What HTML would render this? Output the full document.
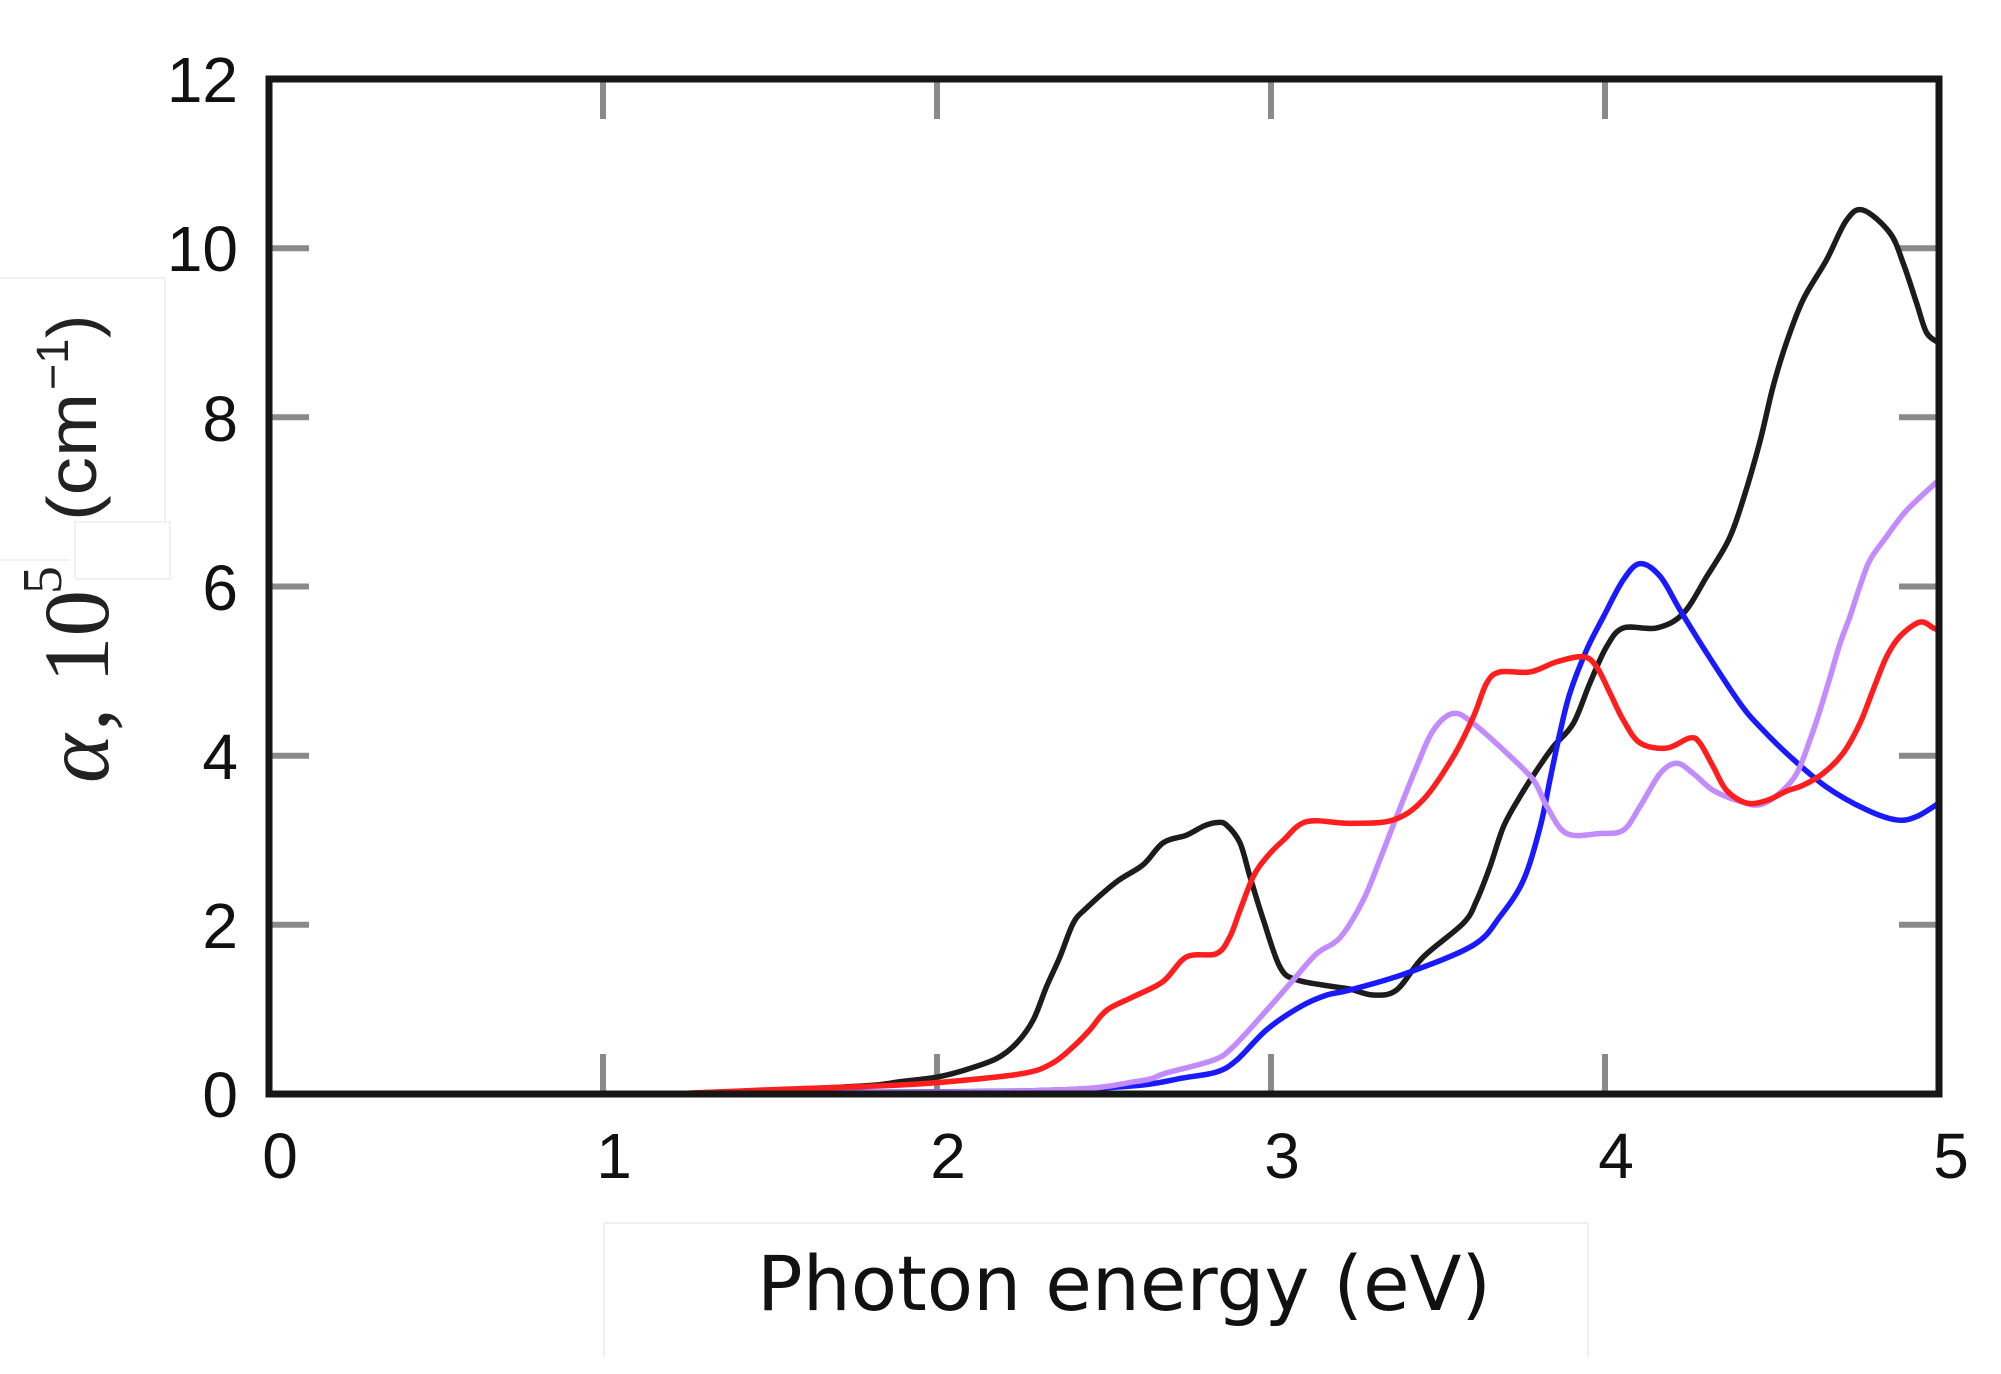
<!DOCTYPE html>
<html>
<head>
<meta charset="utf-8">
<style>
html,body{margin:0;padding:0;background:#fff;}
body{width:2001px;height:1374px;overflow:hidden;}
svg{display:block;}
</style>
</head>
<body>
<svg id="chart" width="2001" height="1374" viewBox="0 0 2001 1374" xmlns="http://www.w3.org/2000/svg">
<rect x="0" y="0" width="2001" height="1374" fill="#fff"/>

<!-- faint boxes -->
<g fill="none" stroke="#ececec" stroke-width="1.5">
  <polyline points="0,278 165,278 165,522"/>
  <polyline points="75,579 75,522 170,522 170,579 75,579"/>
  <line x1="0" y1="560" x2="70" y2="560"/>
  <polyline points="604,1357 604,1223 1588,1223 1588,1357"/>
</g>

<defs>
  <clipPath id="pa"><rect x="269" y="79" width="1670" height="1015"/></clipPath>
</defs>

<!-- ticks -->
<g stroke="#8a8a8a" stroke-width="6">
  <line x1="603" y1="1094" x2="603" y2="1054"/>
  <line x1="937" y1="1094" x2="937" y2="1054"/>
  <line x1="1271" y1="1094" x2="1271" y2="1054"/>
  <line x1="1605" y1="1094" x2="1605" y2="1054"/>
  <line x1="603" y1="79" x2="603" y2="119"/>
  <line x1="937" y1="79" x2="937" y2="119"/>
  <line x1="1271" y1="79" x2="1271" y2="119"/>
  <line x1="1605" y1="79" x2="1605" y2="119"/>
  <line x1="269" y1="924.8" x2="309" y2="924.8"/>
  <line x1="269" y1="755.7" x2="309" y2="755.7"/>
  <line x1="269" y1="586.5" x2="309" y2="586.5"/>
  <line x1="269" y1="417.3" x2="309" y2="417.3"/>
  <line x1="269" y1="248.2" x2="309" y2="248.2"/>
  <line x1="1939" y1="924.8" x2="1899" y2="924.8"/>
  <line x1="1939" y1="755.7" x2="1899" y2="755.7"/>
  <line x1="1939" y1="586.5" x2="1899" y2="586.5"/>
  <line x1="1939" y1="417.3" x2="1899" y2="417.3"/>
  <line x1="1939" y1="248.2" x2="1899" y2="248.2"/>
</g>

<!-- curves -->
<g clip-path="url(#pa)" id="curvesWrap">
<g id="curves" transform="translate(269,1094) scale(334,-84.583)" fill="none" stroke-width="5.5" stroke-linejoin="round" stroke-linecap="round">
<polyline vector-effect="non-scaling-stroke" stroke="#1c1c1c" points="1.2,0 1.4,0.03 1.6,0.06 1.8,0.1 1.889,0.145 2.0,0.2 2.089,0.29 2.179,0.42 2.238,0.6 2.288,0.875 2.328,1.27 2.368,1.62 2.408,2.02 2.448,2.2 2.538,2.51 2.617,2.71 2.677,2.97 2.747,3.06 2.8,3.17 2.84,3.21 2.867,3.18 2.907,2.97 2.937,2.57 2.977,2.06 3.027,1.5 3.077,1.35 3.186,1.27 3.237,1.24 3.306,1.17 3.376,1.23 3.456,1.62 3.576,2.02 3.616,2.29 3.656,2.69 3.696,3.16 3.746,3.52 3.796,3.83 3.846,4.11 3.905,4.38 3.955,4.86 4.005,5.29 4.055,5.51 4.155,5.51 4.234,5.68 4.305,6.12 4.37,6.55 4.413,7.02 4.463,7.7 4.503,8.36 4.543,8.88 4.593,9.39 4.663,9.86 4.723,10.33 4.773,10.45 4.853,10.18 4.893,9.82 4.933,9.35 4.963,9.0 5.0,8.88"/>
<polyline vector-effect="non-scaling-stroke" stroke="#1a1aff" points="1.2,0 1.8,0.02 2.3,0.04 2.6,0.1 2.737,0.19 2.837,0.26 2.897,0.4 2.987,0.76 3.087,1.03 3.167,1.17 3.237,1.23 3.407,1.43 3.606,1.76 3.686,2.1 3.756,2.53 3.806,3.16 3.835,3.71 3.865,4.27 3.895,4.74 3.945,5.25 3.995,5.64 4.055,6.08 4.105,6.27 4.165,6.12 4.225,5.72 4.305,5.21 4.404,4.62 4.464,4.34 4.554,3.99 4.663,3.63 4.783,3.36 4.873,3.24 4.933,3.28 5.0,3.44"/>
<polyline vector-effect="non-scaling-stroke" stroke="#c28cff" points="1.2,0 2.3,0.04 2.6,0.15 2.687,0.25 2.827,0.4 2.887,0.56 2.987,0.99 3.067,1.35 3.137,1.66 3.207,1.85 3.276,2.29 3.326,2.77 3.376,3.28 3.436,3.87 3.486,4.3 3.546,4.5 3.606,4.38 3.706,4.03 3.786,3.71 3.826,3.4 3.885,3.08 3.985,3.08 4.055,3.12 4.105,3.4 4.165,3.79 4.215,3.91 4.264,3.79 4.324,3.59 4.404,3.46 4.464,3.42 4.524,3.56 4.574,3.79 4.614,4.19 4.644,4.54 4.674,4.93 4.704,5.33 4.733,5.64 4.763,6.0 4.793,6.31 4.843,6.59 4.903,6.9 5.0,7.26"/>
<polyline vector-effect="non-scaling-stroke" stroke="#ff1e1e" points="1.2,0 1.5,0.05 1.889,0.106 2.089,0.165 2.268,0.25 2.348,0.37 2.408,0.56 2.458,0.76 2.508,0.99 2.588,1.15 2.677,1.33 2.747,1.62 2.837,1.66 2.877,1.86 2.907,2.17 2.947,2.57 2.987,2.8 3.037,3.0 3.107,3.22 3.237,3.2 3.366,3.24 3.456,3.48 3.546,3.99 3.606,4.46 3.646,4.86 3.686,4.99 3.776,4.99 3.856,5.11 3.935,5.17 3.975,5.05 4.015,4.74 4.055,4.42 4.105,4.15 4.185,4.09 4.254,4.21 4.284,4.15 4.324,3.87 4.364,3.59 4.424,3.44 4.484,3.47 4.543,3.58 4.593,3.65 4.653,3.79 4.713,4.03 4.763,4.38 4.803,4.78 4.843,5.17 4.883,5.41 4.943,5.58 4.983,5.51 5.0,5.48"/>
</g>
</g>

<!-- frame -->
<rect x="269" y="79" width="1670" height="1015" fill="none" stroke="#161616" stroke-width="7"/>

<!-- y tick labels -->
<g font-family="'Liberation Sans', Arial, sans-serif" font-size="64" fill="#111" text-anchor="end">
  <text x="238" y="1117">0</text>
  <text x="238" y="948">2</text>
  <text x="238" y="779">4</text>
  <text x="238" y="610">6</text>
  <text x="238" y="441">8</text>
  <text x="238" y="271">10</text>
  <text x="238" y="102">12</text>
</g>

<!-- x tick labels -->
<g font-family="'Liberation Sans', Arial, sans-serif" font-size="64" fill="#111" text-anchor="middle">
  <text x="280" y="1178">0</text>
  <text x="614" y="1178">1</text>
  <text x="948" y="1178">2</text>
  <text x="1282" y="1178">3</text>
  <text x="1616" y="1178">4</text>
  <text x="1951" y="1178">5</text>
</g>

<!-- x axis label -->
<text x="757" y="1310" font-family="'DejaVu Sans', 'Liberation Sans', sans-serif" font-size="76" fill="#111" textLength="734" lengthAdjust="spacingAndGlyphs">Photon energy (eV)</text>

<!-- y axis label -->
<g transform="translate(108,783) rotate(-90)" fill="#222">
  <text x="0" y="0" font-family="'Liberation Serif', serif" font-style="italic" font-size="93">α</text>
  <text x="52" y="0" font-family="'Liberation Serif', serif" font-size="93">,</text>
  <text x="100" y="0" font-family="'Liberation Serif', serif" font-size="93">10</text>
  <text x="189" y="-47" font-family="'Liberation Serif', serif" font-size="56">5</text>
  <text x="262" y="-12" font-family="'Liberation Sans', sans-serif" font-size="70" textLength="128" lengthAdjust="spacingAndGlyphs">(cm</text>
  <text x="393" y="-40" font-family="'Liberation Sans', sans-serif" font-size="45">−1</text>
  <text x="445" y="-12" font-family="'Liberation Sans', sans-serif" font-size="70">)</text>
</g>
</svg>
<script>
(function(){
  try{
    var NS="http://www.w3.org/2000/svg";
    var g=document.getElementById("curves");
    var wrap=document.getElementById("curvesWrap");
    var pls=g.querySelectorAll("polyline");
    var ng=document.createElementNS(NS,"g");
    ng.setAttribute("fill","none");
    ng.setAttribute("stroke-width","5.5");
    ng.setAttribute("stroke-linejoin","round");
    ng.setAttribute("stroke-linecap","round");
    for(var k=0;k<pls.length;k++){
      var pts=pls[k].getAttribute("points").trim().split(/\s+/).map(function(s){
        var a=s.split(",");return [269+334*parseFloat(a[0]),1094-84.583*parseFloat(a[1])];
      });
      var d="M"+pts[0][0].toFixed(2)+","+pts[0][1].toFixed(2);
      for(var i=0;i<pts.length-1;i++){
        var p0=pts[i>0?i-1:i],p1=pts[i],p2=pts[i+1],p3=pts[i+2<pts.length?i+2:i+1];
        var t=0.5/3;
        var c1x=p1[0]+(p2[0]-p0[0])*t,c1y=p1[1]+(p2[1]-p0[1])*t;
        var c2x=p2[0]-(p3[0]-p1[0])*t,c2y=p2[1]-(p3[1]-p1[1])*t;
        d+=" C"+c1x.toFixed(2)+","+c1y.toFixed(2)+" "+c2x.toFixed(2)+","+c2y.toFixed(2)+" "+p2[0].toFixed(2)+","+p2[1].toFixed(2);
      }
      var p=document.createElementNS(NS,"path");
      p.setAttribute("d",d);
      p.setAttribute("stroke",pls[k].getAttribute("stroke"));
      ng.appendChild(p);
    }
    wrap.appendChild(ng);
    g.parentNode.removeChild(g);
  }catch(e){}
})();
</script>
</body>
</html>
